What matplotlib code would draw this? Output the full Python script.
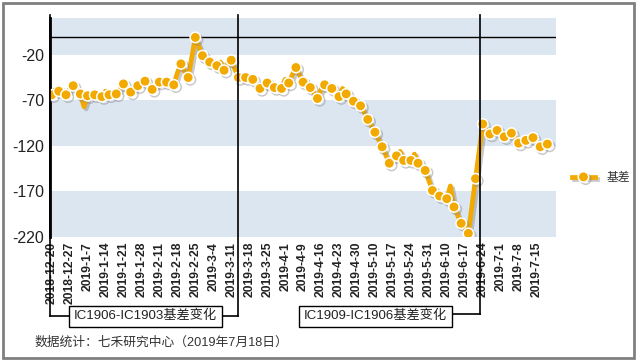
import matplotlib.pyplot as plt
import matplotlib.patheffects as pe
from matplotlib.lines import Line2D
from matplotlib.patches import Rectangle
import numpy as np

plt.rcParams['font.family'] = ['Liberation Sans', 'Noto Sans CJK SC']

# x轴标签 (每5个交易日一个)
tick_labels = ['2018-12-20', '2018-12-27', '2019-1-7', '2019-1-14', '2019-1-21',
               '2019-1-28', '2019-2-11', '2019-2-18', '2019-2-25', '2019-3-4',
               '2019-3-11', '2019-3-18', '2019-3-25', '2019-4-1', '2019-4-9',
               '2019-4-16', '2019-4-23', '2019-4-30', '2019-5-10', '2019-5-17',
               '2019-5-24', '2019-5-31', '2019-6-10', '2019-6-17', '2019-6-24',
               '2019-7-1', '2019-7-8', '2019-7-15']

# 基差 (逐日)
basis = [-64, -58, -60, -62, -64, -58, -54, -58, -63, -77,
         -65, -64, -64, -64, -66, -60, -64, -62, -63, -58,
         -52, -56, -61, -57, -54, -51, -49, -52, -58, -54,
         -50, -50, -50, -51, -53, -40, -30, -38, -45, -23,
         -1, -11, -21, -25, -28, -31, -32, -28, -37, -30,
         -26, -36, -45, -47, -45, -44, -47, -52, -57, -53,
         -51, -52, -56, -56, -57, -47, -51, -42, -34, -42,
         -50, -53, -56, -62, -68, -58, -53, -53, -57, -60,
         -66, -57, -63, -66, -71, -73, -76, -83, -91, -98,
         -105, -113, -121, -130, -139, -134, -131, -126, -136, -134,
         -136, -129, -139, -143, -147, -158, -169, -172, -175, -176,
         -178, -164, -187, -196, -205, -210, -216, -186, -156, -126,
         -96, -102, -107, -104, -103, -106, -110, -108, -106, -111,
         -117, -115, -114, -112, -111, -116, -121, -119, -118]

W, H = 636, 361
fig = plt.figure(figsize=(W / 100, H / 100), dpi=100)
ax = fig.add_axes([50 / W, 1 - 237 / H, 506 / W, 218.7 / H])

def fx(px):
    return px / W

def fy(py):
    return 1 - py / H

x = np.arange(len(basis))
gold = '#F2A900'

# 背景色带
for lo, hi in [(-20, 20), (-120, -70), (-220, -170)]:
    ax.axhspan(lo, hi, color='#DCE6F1', lw=0, zorder=0)
ax.axhline(0, color='black', lw=1, zorder=1)

shadow = [pe.SimpleLineShadow(offset=(1.6, -1.6), shadow_color='#888888', alpha=0.45), pe.Normal()]
ax.plot(x, basis, color=gold, lw=3.4, marker='o', markevery=2, ms=7.5,
        mfc=gold, mec='white', mew=1.1, zorder=3, label='基差', path_effects=shadow)

ax.set_xlim(-0.45, 140.4)
ax.set_ylim(-220, 20)
ax.set_yticks([-20, -70, -120, -170, -220])
ax.set_yticklabels(['-20', '-70', '-120', '-170', '-220'], fontsize=11.5, color='#222222')
ax.tick_params(axis='y', pad=4)
ax.set_xticks(np.arange(0, 5 * len(tick_labels), 5))
ax.set_xticklabels(tick_labels, rotation=90, fontsize=8.7, fontweight='bold', color='#222222')
ax.tick_params(length=0)
for s in ['top', 'right', 'bottom']:
    ax.spines[s].set_visible(False)
ax.spines['left'].set_linewidth(2)

leg = ax.legend(loc='center left', bbox_to_anchor=(fx(561), fy(178)),
                bbox_transform=fig.transFigure, frameon=False, fontsize=8.5,
                handlelength=2.0, handletextpad=1.0, borderpad=0.4, labelcolor='#333333')

# 合约切换标注
lines = [
    ([49.5, 49.5], [15, 315.7]),
    ([49.5, 73], [315.7, 315.7]),
    ([218, 238.3], [315.7, 315.7]),
    ([238.3, 238.3], [315.7, 15]),
    ([451, 480.3], [314, 314]),
    ([480.3, 480.3], [314, 15]),
]
for xs, ys in lines:
    fig.add_artist(Line2D([fx(v) for v in xs], [fy(v) for v in ys],
                          transform=fig.transFigure, color='black', lw=1.2))

box = dict(boxstyle='square,pad=0.35', fc='white', ec='black', lw=1)
fig.text(fx(145.5), fy(316.3), 'IC1906-IC1903基差变化', ha='center', va='center',
         fontsize=9.5, color='#222222', bbox=box)
fig.text(fx(375.5), fy(316.3), 'IC1909-IC1906基差变化', ha='center', va='center',
         fontsize=9.5, color='#222222', bbox=box)

fig.text(fx(35), fy(343), '数据统计：七禾研究中心（2019年7月18日）', ha='left', va='center',
         fontsize=9.2, color='#333333')

fig.add_artist(Rectangle((fx(2.5), fy(358)), fx(631), 355.5 / H, transform=fig.transFigure,
                         fill=False, ec='#808080', lw=2))

fig.savefig('out.png', dpi=100)
